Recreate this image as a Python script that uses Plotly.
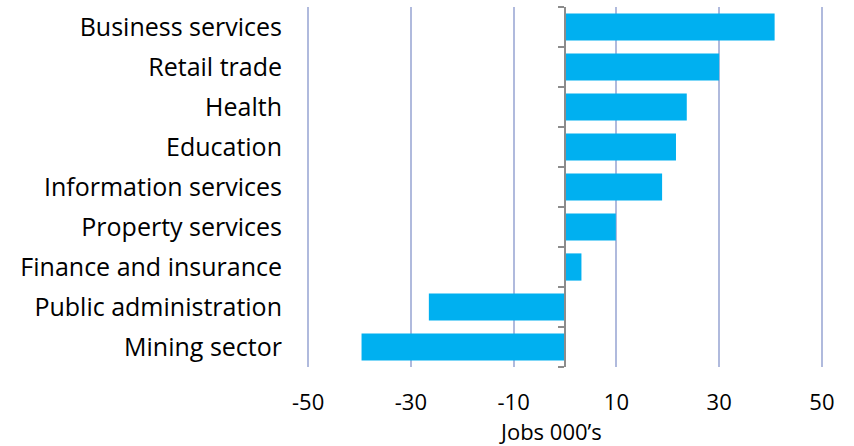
import plotly.graph_objects as go

categories = ["Business services", "Retail trade", "Health", "Education",
              "Information services", "Property services", "Finance and insurance",
              "Public administration", "Mining sector"]
values = [40.8, 30.0, 23.7, 21.6, 18.9, 9.9, 3.2, -26.5, -39.6]
tick_vals = [-50, -30, -10, 10, 30, 50]
tick_text = ["-50", "-30", "-10", "10", "30", "50"]
x_title = "Jobs 000\u2019s"

FONT = "Open Sans"
n = len(categories)

fig = go.Figure()
fig.add_trace(go.Bar(
    x=values, y=categories, orientation="h",
    marker=dict(color="#00B0F0", line=dict(width=0)),
    width=0.68,
))
# invisible trace for the axis at zero with boundary ticks
fig.add_trace(go.Scatter(x=[None], y=[None], yaxis="y2", showlegend=False))

fig.update_layout(
    width=854, height=446,
    margin=dict(l=304, r=28, t=7, b=79),
    plot_bgcolor="white", paper_bgcolor="white",
    showlegend=False,
    font=dict(family=FONT, size=23, color="#000000"),
    xaxis=dict(
        range=[-50.8, 50.8], tickvals=tick_vals, ticktext=tick_text,
        showgrid=True, gridcolor="#B0BADD", gridwidth=2,
        zeroline=False, showline=False, ticks="",
        tickfont=dict(size=22), ticklabelstandoff=20,
    ),
    yaxis=dict(
        categoryorder="array", categoryarray=categories[::-1],
        range=[-0.5, n - 0.5],
        showgrid=False, zeroline=False, showline=False, ticks="",
        ticklabelstandoff=21, tickfont=dict(size=25),
    ),
    yaxis2=dict(
        overlaying="y", anchor="free", position=0.5, side="left",
        range=[-0.5, n - 0.5],
        tickvals=[i - 0.5 for i in range(n + 1)],
        showticklabels=False, ticks="outside", ticklen=6, tickcolor="#8C8C8C",
        tickwidth=2,
        showline=True, linecolor="#8C8C8C", linewidth=2,
        showgrid=False, zeroline=False,
    ),
    annotations=[dict(
        text=x_title, xref="paper", yref="paper", x=0.472, y=-0.178,
        xanchor="center", yanchor="middle", showarrow=False,
        font=dict(size=22),
    )],
)

fig.write_html("out.html")
